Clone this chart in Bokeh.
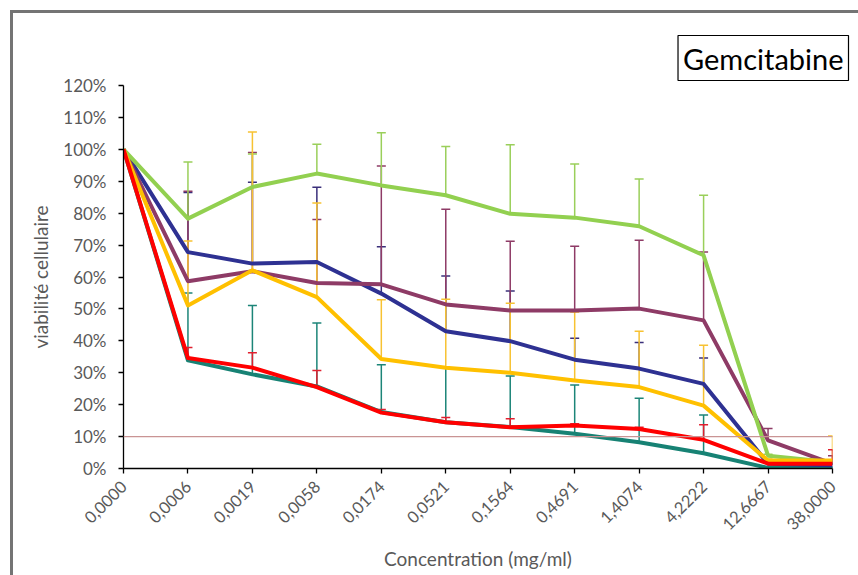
import numpy as np
from bokeh.plotting import figure
from bokeh.models import FixedTicker, Range1d, Span
from bokeh.embed import file_html
from bokeh.resources import INLINE

concentrations = ["0,0000", "0,0006", "0,0019", "0,0058", "0,0174", "0,0521",
                  "0,1564", "0,4691", "1,4074", "4,2222", "12,6667", "38,0000"]

green = [100, 78.3, 88.2, 92.4, 88.7, 85.6, 79.8, 78.6, 75.9, 66.8, 4.0, 2.0]
green_err = [0, 17.7, 10.3, 9.2, 16.5, 15.3, 21.6, 16.8, 14.8, 18.8, 0.5, 0]

purple = [100, 58.7, 61.8, 58.1, 57.7, 51.4, 49.5, 49.5, 50.1, 46.4, 8.8, 1.5]
purple_err = [0, 28.2, 37.2, 19.9, 37.1, 29.8, 21.7, 20.1, 21.4, 21.4, 3.7, 2.5]

blue = [100, 67.8, 64.2, 64.7, 54.8, 43.0, 39.9, 34.1, 31.3, 26.5, 1.5, 1.0]
blue_err = [0, 18.7, 25.5, 23.4, 14.7, 17.3, 15.7, 6.7, 8.2, 8.1, 0.5, 0.5]

yellow = [100, 51.1, 62.1, 53.7, 34.3, 31.6, 30.0, 27.6, 25.5, 19.7, 2.5, 2.5]
yellow_err = [0, 20.2, 43.3, 29.5, 18.6, 21.4, 21.8, 21.4, 17.5, 18.9, 0.5, 7.7]

teal = [100, 33.9, 29.5, 25.7, 17.7, 14.5, 13.0, 10.9, 8.2, 4.8, 0.2, 0.2]
teal_err = [0, 21.1, 21.6, 19.9, 14.8, 17.0, 16.0, 15.3, 13.8, 12.0, 0.3, 0.3]

red = [100, 34.6, 31.6, 25.5, 17.5, 14.5, 12.9, 13.5, 12.4, 9.0, 1.5, 1.5]
red_err = [0, 3.3, 4.7, 5.2, 1.0, 1.5, 2.7, 0.5, 0.5, 4.7, 0.5, 4.4]

y_ticks = list(range(0, 121, 10))
threshold = 10
chart_title = "Gemcitabine"

FONT = "Lato"
GREY = "#595959"

xs = list(range(len(concentrations)))

p = figure(width=858, height=575, output_backend="svg", toolbar_location=None,
           x_range=Range1d(0, len(concentrations) - 1), y_range=Range1d(0, 120),
           min_border_left=123, min_border_right=26, min_border_top=85,
           min_border_bottom=107)
p.xgrid.visible = False
p.ygrid.visible = False
p.outline_line_color = None
p.background_fill_color = "white"
p.border_fill_color = None
p.styles = {"box-shadow": "inset 10px 10px 0 0 white, inset 13px 13px 0 0 #747474",
            "background-color": "white"}

# axes
for ax in (p.xaxis[0], p.yaxis[0]):
    ax.axis_line_color = "black"
    ax.axis_line_width = 1.3
    ax.major_tick_line_color = "black"
    ax.major_tick_line_width = 1.3
    ax.major_tick_out = 5
    ax.major_tick_in = 0
    ax.minor_tick_line_color = None
    ax.major_label_text_font = FONT
    ax.major_label_text_color = GREY
    ax.axis_label_text_font = FONT
    ax.axis_label_text_font_size = "19px"
    ax.axis_label_text_font_style = "normal"
    ax.axis_label_text_color = GREY

p.xaxis.ticker = FixedTicker(ticks=xs)
p.xaxis.major_label_overrides = {i: c for i, c in enumerate(concentrations)}
p.xaxis.major_label_orientation = np.pi / 4
p.xaxis.major_label_standoff = 10
p.xaxis.major_label_text_font_size = "16.5px"
p.xaxis.axis_label = "Concentration (mg/ml)"
p.xaxis.axis_label_standoff = 8

p.yaxis.ticker = FixedTicker(ticks=y_ticks)
p.yaxis.major_label_overrides = {v: f"{v}%" for v in y_ticks}
p.yaxis.major_label_standoff = 12
p.yaxis.major_label_text_font_size = "17px"
p.yaxis.axis_label = "viabilité cellulaire"
p.yaxis.axis_label_standoff = 8

p.add_layout(Span(location=threshold, dimension="width", line_color="#C99494", line_width=1.2))

series = [
    (teal, teal_err, "#178274", "#1C8578"),
    (blue, blue_err, "#2E3192", "#3A2F7A"),
    (purple, purple_err, "#8E3B66", "#8E3B66"),
    (green, green_err, "#92D050", "#9ACF5A"),
    (yellow, yellow_err, "#FFC000", "#F7C232"),
    (red, red_err, "#FF0000", "#E0202F"),
]

# error bars (upper only)
for vals, err, col, ecol in series:
    ex = [x for x, e in zip(xs, err) if e > 0]
    ey0 = [v for v, e in zip(vals, err) if e > 0]
    ey1 = [v + e for v, e in zip(vals, err) if e > 0]
    p.segment(x0=ex, y0=ey0, x1=ex, y1=ey1, line_color=ecol, line_width=1.5)
    p.scatter(ex, ey1, marker="dash", size=9, line_color=ecol, line_width=1.5)

for vals, err, col, ecol in series:
    p.line(xs, vals, line_color=col, line_width=4, line_join="round")

# title box
p.title.text = chart_title
p.title.align = "right"
p.title.offset = -16
p.title.standoff = 10
p.title.text_font = FONT
p.title.text_font_size = "29px"
p.title.text_font_style = "normal"
p.title.text_color = "black"
p.title.border_line_color = "black"
p.title.border_line_width = 1.2
p.title.background_fill_color = "white"
p.title.padding = 5

open("out.html", "w").write(file_html(p, INLINE))
